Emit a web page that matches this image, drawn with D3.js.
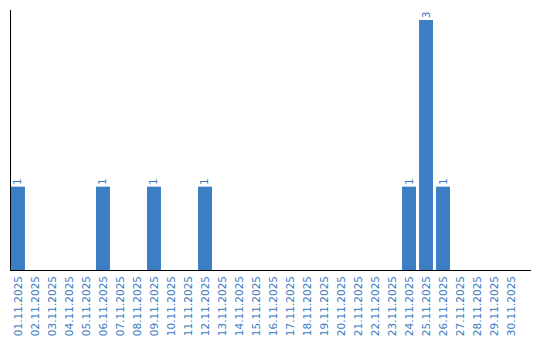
<!DOCTYPE html>
<html><head><meta charset="utf-8">
<script src="https://cdn.jsdelivr.net/npm/d3@7/dist/d3.min.js"></script>
<style>body{margin:0;background:#fff}svg{display:block}</style>
</head><body>
<svg id="c" width="540" height="340"></svg>
<script>
const categories = ["01.11.2025","02.11.2025","03.11.2025","04.11.2025","05.11.2025","06.11.2025","07.11.2025","08.11.2025","09.11.2025","10.11.2025","11.11.2025","12.11.2025","13.11.2025","14.11.2025","15.11.2025","16.11.2025","17.11.2025","18.11.2025","19.11.2025","20.11.2025","21.11.2025","22.11.2025","23.11.2025","24.11.2025","25.11.2025","26.11.2025","27.11.2025","28.11.2025","29.11.2025","30.11.2025"];
const values = [1,0,0,0,0,1,0,0,1,0,0,1,0,0,0,0,0,0,0,0,0,0,0,1,3,1,0,0,0,0];

const svg = d3.select("#c");
const barColor = "#3b7ec3", textColor = "#3a7bbf";
const x = d3.scaleBand().domain(categories).range([11, 518]).paddingInner(0.18).paddingOuter(0);
const y = d3.scaleLinear().domain([0, d3.max(values) * 1.04]).range([270, 10]);

svg.append("g").selectAll("rect").data(categories).join("rect")
  .filter((d,i)=>values[i]>0)
  .attr("x", d=>x(d)).attr("width", x.bandwidth())
  .attr("y", d=>y(values[categories.indexOf(d)]))
  .attr("height", d=>y(0)-y(values[categories.indexOf(d)]))
  .attr("fill", barColor);

// value labels
svg.append("g").selectAll("text").data(categories.filter((d,i)=>values[i]>0)).join("text")
  .attr("transform", d=>`translate(${x(d)+x.bandwidth()/2},${y(values[categories.indexOf(d)])-2}) rotate(-90)`)
  .attr("dy","0.35em").attr("text-anchor","start")
  .style("font","10px 'DejaVu Sans', Verdana, sans-serif").attr("fill", textColor)
  .text(d=>values[categories.indexOf(d)]);

// category labels
svg.append("g").selectAll("text").data(categories).join("text")
  .attr("transform", d=>`translate(${x(d)+x.bandwidth()/2},276) rotate(-90)`)
  .attr("dy","0.35em").attr("text-anchor","end")
  .style("font","10.5px 'DejaVu Sans', Verdana, sans-serif").attr("fill", textColor)
  .text(d=>d);

// axes lines
svg.append("line").attr("x1",10.5).attr("x2",10.5).attr("y1",y.range()[1]).attr("y2",y(0)).attr("stroke","#000");
svg.append("line").attr("x1",10).attr("x2",531).attr("y1",y(0)+0.5).attr("y2",y(0)+0.5).attr("stroke","#000");
</script>
</body></html>
